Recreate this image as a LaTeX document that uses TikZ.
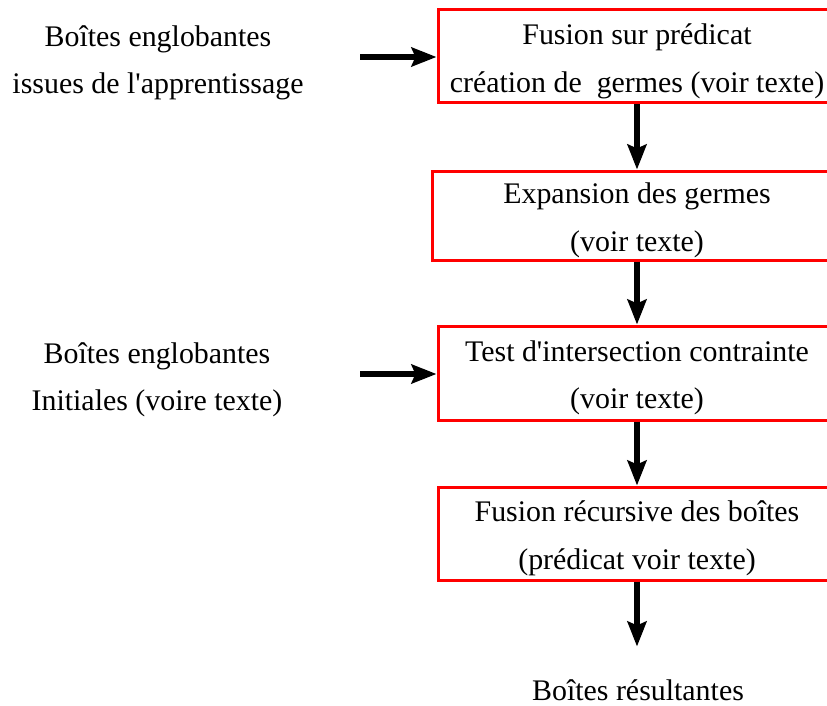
\documentclass[tikz,border=0pt]{standalone}
\usepackage{fontspec}
\setmainfont{Liberation Serif}
\usetikzlibrary{arrows.meta}
\tikzset{
  etape/.style={draw=red, line width=3pt, minimum width=398pt, minimum height=93pt,
    inner sep=0pt},
  fleche/.style={line width=5.5pt, -{Stealth[length=25pt, width=19pt, inset=4pt]}},
  texte/.style={align=center}
}
\begin{document}
\begin{tikzpicture}[x=1pt, y=-1pt,
    font=\fontsize{29.9}{47.5}\selectfont]
        \clip (0,0) rectangle (827,706);
        \useasboundingbox (0,0) rectangle (827,706);

        % Coordinates
        \coordinate (E1) at (360,57);
        \coordinate (E2) at (360,374);

        % Boxes
        \node[etape] (fusion) at (637,56.5) {};
        \node[etape, minimum width=410pt, minimum height=89pt] (expansion) at (637,215.5) {};
        \node[etape, minimum height=94pt] (test) at (637,373) {};
        \node[etape] (recursive) at (637,533.5) {};
        \coordinate (S) at ([yshift=-65pt]recursive.south);

        % Texts
        \node[texte] (entree1) at (158,63) {Boîtes englobantes\\issues de l\textquotesingle apprentissage};
        \node[texte] (entree2) at (157,380) {Boîtes englobantes\\Initiales (voire texte)};
        \node[texte] (fusiontxt) at ([yshift=-5pt]fusion.center) {Fusion sur prédicat\\création de\ \ germes (voir texte)};
        \node[texte] (expansiontxt) at ([yshift=-5pt]expansion.center) {Expansion des germes\\(voir texte)};
        \node[texte] (testtxt) at ([yshift=-5pt]test.center) {Test d\textquotesingle intersection contrainte\\(voir texte)};
        \node[texte] (recursivetxt) at ([yshift=-5pt]recursive.center) {Fusion récursive des boîtes\\(prédicat voir texte)};
        \node (resultat) at (638,690) {Boîtes résultantes};

        % Drawing
        \draw[fleche] (E1) -- (fusion.west |- E1);
        \draw[fleche] (E2) -- (test.west |- E2);
        \draw[fleche] (fusion.south) -- (expansion.north);
        \draw[fleche] (expansion.south) -- (test.north);
        \draw[fleche] (test.south) -- (recursive.north);
        \draw[fleche] (recursive.south) -- (S);
    \end{tikzpicture}
\end{document}
